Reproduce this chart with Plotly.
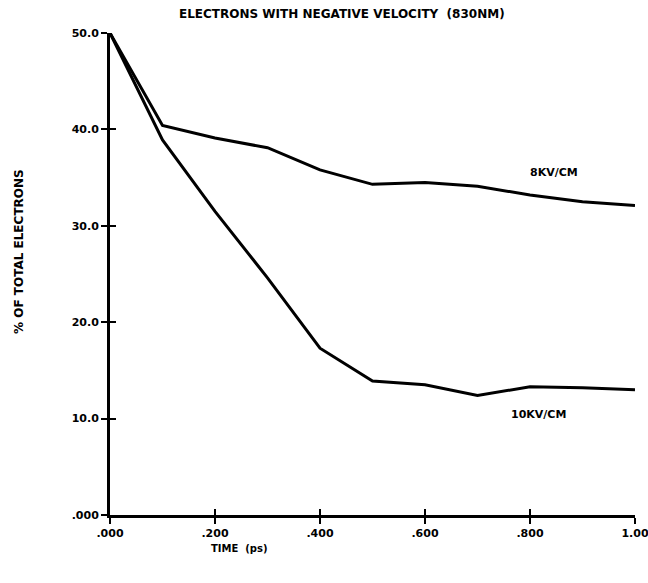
import plotly.graph_objects as go

# Time axis (ps) and fraction of electrons with negative velocity (%)
time_ps = [0.0, 0.1, 0.2, 0.3, 0.4, 0.5, 0.6, 0.7, 0.8, 0.9, 1.0]
pct_8kv = [50.0, 40.4, 39.1, 38.1, 35.8, 34.3, 34.5, 34.1, 33.2, 32.5, 32.1]
pct_10kv = [50.0, 38.9, 31.5, 24.6, 17.3, 13.9, 13.5, 12.4, 13.3, 13.2, 13.0]

x_tickvals = [0.0, 0.2, 0.4, 0.6, 0.8, 1.0]
x_ticktext = [".000", ".200", ".400", ".600", ".800", "1.00"]
y_tickvals = [0, 10, 20, 30, 40, 50]
y_ticktext = [".000", "10.0", "20.0", "30.0", "40.0", "50.0"]

FONT = "DejaVu Sans"
W, H = 648, 583
L, R, T, B = 110, 13, 33, 68
PW, PH = W - L - R, H - T - B


def px(x):
    return (x - L) / PW


def py(y):
    return (H - B - y) / PH


fig = go.Figure()
line_style = dict(color="black", width=3)
fig.add_trace(go.Scatter(x=time_ps, y=pct_8kv, mode="lines", line=line_style,
                         showlegend=False, hoverinfo="skip"))
fig.add_trace(go.Scatter(x=time_ps, y=pct_10kv, mode="lines", line=line_style,
                         showlegend=False, hoverinfo="skip"))
# invisible trace for the inner tick axes
fig.add_trace(go.Scatter(x=[0, 1], y=[0, 50], mode="markers", marker=dict(opacity=0),
                         xaxis="x2", yaxis="y2", showlegend=False, hoverinfo="skip"))

tickfont = dict(family=FONT, size=11, color="black", weight="bold")
common = dict(showgrid=False, zeroline=False, showline=True, linecolor="black",
              linewidth=3, tickcolor="black", tickwidth=2, ticklen=6, automargin=False)

fig.update_layout(
    width=W, height=H,
    margin=dict(l=L, r=R, t=T, b=B, pad=0, autoexpand=False),
    paper_bgcolor="white", plot_bgcolor="white",
    xaxis=dict(range=[0, 1], tickvals=x_tickvals, ticktext=x_ticktext,
               ticks="outside", tickfont=tickfont, ticklabeloverflow="allow", **common),
    yaxis=dict(range=[0, 50], tickvals=y_tickvals, ticktext=y_ticktext,
               ticks="outside", tickfont=tickfont, ticklabeloverflow="allow", **common),
    xaxis2=dict(range=[0, 1], tickvals=x_tickvals, ticks="inside", showticklabels=False,
                overlaying="x", matches="x", **common),
    yaxis2=dict(range=[0, 50], tickvals=y_tickvals, ticks="inside", showticklabels=False,
                overlaying="y", matches="y", **common),
)

annotations = [
    dict(text="ELECTRONS WITH NEGATIVE VELOCITY  (830NM)", x=px(342), y=py(14), size=12),
    dict(text="% OF TOTAL ELECTRONS", x=px(19), y=py(252), textangle=-90, size=12),
    dict(text="TIME  (ps)", x=px(239), y=py(548), size=10),
    dict(text="8KV/CM", x=px(554), y=py(172), size=11),
    dict(text="10KV/CM", x=px(538), y=py(414), size=11),
]
for a in annotations:
    size = a.pop("size")
    fig.add_annotation(xref="paper", yref="paper", showarrow=False,
                       xanchor="center", yanchor="middle",
                       font=dict(family=FONT, size=size, color="black", weight="bold"), **a)

fig.write_html("out.html")
